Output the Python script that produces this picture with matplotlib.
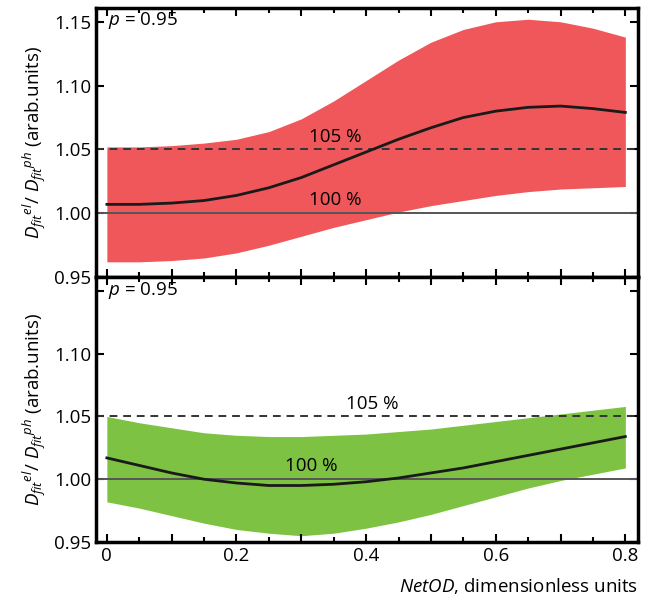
import numpy as np
import matplotlib
matplotlib.use("Agg")
import matplotlib.pyplot as plt
from matplotlib.ticker import MultipleLocator, FuncFormatter

plt.rcParams['font.family'] = ['Open Sans', 'DejaVu Sans']
plt.rcParams['mathtext.fontset'] = 'custom'
plt.rcParams['mathtext.it'] = 'Open Sans:italic'
plt.rcParams['mathtext.rm'] = 'Open Sans'

# --- data ---
netod = [0.0, 0.05, 0.1, 0.15, 0.2, 0.25, 0.3, 0.35, 0.4, 0.45, 0.5, 0.55, 0.6, 0.65, 0.7, 0.75, 0.8]

red_upper = [1.052, 1.052, 1.053, 1.055, 1.058, 1.064, 1.074, 1.088, 1.104, 1.120, 1.134, 1.144, 1.150, 1.152, 1.150, 1.145, 1.138]
red_mid = [1.007, 1.007, 1.008, 1.010, 1.014, 1.020, 1.028, 1.038, 1.048, 1.058, 1.067, 1.075, 1.080, 1.083, 1.084, 1.082, 1.079]
red_lower = [0.962, 0.962, 0.963, 0.965, 0.969, 0.975, 0.982, 0.989, 0.995, 1.001, 1.006, 1.010, 1.014, 1.017, 1.019, 1.020, 1.021]

green_upper = [1.050, 1.045, 1.041, 1.037, 1.035, 1.034, 1.034, 1.035, 1.036, 1.038, 1.040, 1.043, 1.046, 1.049, 1.052, 1.055, 1.058]
green_mid = [1.017, 1.011, 1.005, 1.000, 0.997, 0.995, 0.995, 0.996, 0.998, 1.001, 1.005, 1.009, 1.014, 1.019, 1.024, 1.029, 1.034]
green_lower = [0.982, 0.977, 0.971, 0.965, 0.960, 0.957, 0.955, 0.957, 0.961, 0.966, 0.972, 0.979, 0.986, 0.993, 0.999, 1.004, 1.009]

panels = [
    (red_lower, red_mid, red_upper, '#f0575a', (0.352, 1.053), (0.352, 1.003)),
    (green_lower, green_mid, green_upper, '#7dc242', (0.41, 1.053), (0.315, 1.003)),
]

fig = plt.figure(figsize=(6.52, 5.96), dpi=100)
ax_top = fig.add_axes([0.147, 0.535, 0.832, 0.452])
ax_bot = fig.add_axes([0.147, 0.0906, 0.832, 0.4444])

ylabel = r'$D_{fit}{}^{el}$/ $D_{fit}{}^{ph}$ (arab.units)'

for ax, (lo, mid, up, col, pos105, pos100) in zip([ax_top, ax_bot], panels):
    ax.fill_between(netod, lo, up, color=col, lw=0, zorder=1)
    ax.axhline(1.05, color='#333333', lw=1.4, ls=(0, (4, 3)), zorder=2)
    ax.axhline(1.00, color='#555555', lw=1.4, zorder=2)
    ax.plot(netod, mid, color='#1a1a1a', lw=2, zorder=3)
    ax.text(pos105[0], pos105[1], '105 %', ha='center', va='bottom', fontsize=13.5)
    ax.text(pos100[0], pos100[1], '100 %', ha='center', va='bottom', fontsize=13.5)
    ax.text(0.022, 0.99, r'$p$ = 0.95', transform=ax.transAxes, ha='left', va='top', fontsize=13.5)

    ax.set_xlim(-0.017, 0.82)
    ax.set_ylim(0.95, 1.161)
    ax.yaxis.set_major_locator(MultipleLocator(0.05))
    ax.xaxis.set_major_locator(MultipleLocator(0.1))
    ax.xaxis.set_minor_locator(MultipleLocator(0.05))
    ax.xaxis.set_major_formatter(FuncFormatter(
        lambda v, p: ('0' if abs(v) < 1e-9 else f'{v:.1f}') if round(v * 10) % 2 == 0 else ''))
    ax.tick_params(which='both', direction='in', top=True, right=True, labelsize=13.5, width=1.5)
    ax.tick_params(which='major', length=6)
    ax.tick_params(which='minor', length=3.5)
    for s in ax.spines.values():
        s.set_linewidth(2.5)
    ax.set_ylabel(ylabel, fontsize=13.5, labelpad=4)

ax_top.yaxis.set_major_formatter(FuncFormatter(lambda v, p: f'{v:.2f}'))
ax_bot.yaxis.set_major_formatter(FuncFormatter(lambda v, p: f'{v:.2f}' if v < 1.13 else ''))
ax_top.tick_params(labelbottom=False)
ax_bot.set_xlabel(r'$NetOD$, dimensionless units', fontsize=13.5, loc='right', labelpad=8)

fig.savefig('out.png', dpi=100)
